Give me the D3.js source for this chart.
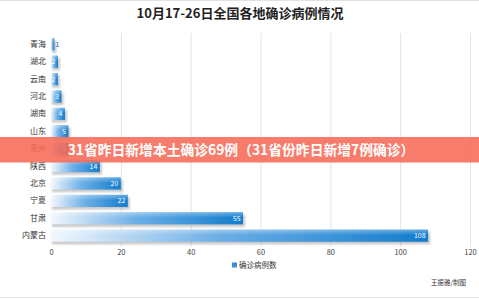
<!DOCTYPE html>
<html>
<head>
<meta charset="utf-8">
<script src="https://cdn.jsdelivr.net/npm/d3@7"></script>
<style>
  html, body { margin: 0; padding: 0; background: #fff; }
  svg { display: block; font-family: "Noto Sans CJK SC", "Noto Sans", sans-serif; }
</style>
</head>
<body>
<svg id="chart" width="479" height="300"></svg>
<script>
// data
var provinces = ["青海", "湖北", "云南", "河北", "湖南", "山东", "贵州", "陕西", "北京", "宁夏", "甘肃", "内蒙古"],
  cases = [1, 2, 2, 3, 4, 5, 5, 14, 20, 22, 55, 108],
  xTicks = [0, 20, 40, 60, 80, 100, 120],
  title = "10月17-26日全国各地确诊病例情况",
  banner = "31省昨日新增本土确诊69例（31省份昨日新增7例确诊）",
  legendLabel = "确诊病例数",
  credit = "王振雅/制图";

var rows = provinces.map(function(p, i){ return {name: p, value: cases[i]}; });

var svg = d3.select("#chart");

var x = d3.scaleLinear().domain([0, 120]).range([51, 470]),
  y = d3.scaleBand().domain(provinces).range([33, 247]).padding(0.3);

var defs = svg.append("defs");

// bar fill: pale on the left, blue at the end
var grad = defs.append("linearGradient")
  .attr("id", "barGrad")
  .attr("x1", 0).attr("x2", 1).attr("y1", 0).attr("y2", 0);
grad.append("stop").attr("offset", "0%").attr("stop-color", "#f2f7fd");
grad.append("stop").attr("offset", "45%").attr("stop-color", "#6aaee6");
grad.append("stop").attr("offset", "100%").attr("stop-color", "#127ccd");

var shine = defs.append("linearGradient")
  .attr("id", "shine")
  .attr("x1", 0).attr("x2", 0).attr("y1", 0).attr("y2", 1);
shine.append("stop").attr("offset", "0%").attr("stop-color", "#fff").attr("stop-opacity", 0.35);
shine.append("stop").attr("offset", "45%").attr("stop-color", "#fff").attr("stop-opacity", 0);

defs.append("filter").attr("id", "blur")
  .append("feGaussianBlur").attr("stdDeviation", 0.9);

// frame lines
svg.append("line").attr("x1", 0).attr("x2", 479).attr("y1", 0.5).attr("y2", 0.5)
  .attr("stroke", "#e2e2e2");
svg.append("line").attr("x1", 0).attr("x2", 479).attr("y1", 297.5).attr("y2", 297.5)
  .attr("stroke", "#e6e6e6");

// title
svg.append("text")
  .attr("x", 240).attr("y", 18)
  .attr("text-anchor", "middle")
  .attr("font-size", 13).attr("font-weight", "bold")
  .attr("fill", "#222")
  .text(title);

// vertical grid
svg.append("g").selectAll("line")
  .data(xTicks.slice(1))
  .join("line")
  .attr("x1", function(d){ return x(d) + 0.5; })
  .attr("x2", function(d){ return x(d) + 0.5; })
  .attr("y1", 33).attr("y2", 247)
  .attr("stroke", "#e4e4e4");

// x axis labels
var xAxis = svg.append("g")
  .attr("transform", "translate(0,250)")
  .call(d3.axisBottom(x).tickValues(xTicks).tickSize(0).tickPadding(0));
xAxis.select(".domain").remove();
xAxis.selectAll("text")
  .attr("font-size", 7.5).attr("fill", "#444")
  .attr("font-family", "\"Noto Sans CJK SC\", sans-serif");

// category labels
var yAxis = svg.append("g")
  .attr("transform", "translate(46,0)")
  .call(d3.axisLeft(y).tickSize(0).tickPadding(0));
yAxis.select(".domain").remove();
yAxis.selectAll("text")
  .attr("font-size", 8).attr("fill", "#333")
  .attr("font-family", "\"Noto Sans CJK SC\", sans-serif");

// bars
var bar = svg.append("g").selectAll("g")
  .data(rows)
  .join("g");

bar.append("rect")
  .attr("x", x(0) + 1)
  .attr("y", function(d){ return y(d.name) + 2.5; })
  .attr("width", function(d){ return x(d.value) - x(0) + 1; })
  .attr("height", y.bandwidth())
  .attr("fill", "#9a9a9a")
  .attr("opacity", 0.55)
  .attr("filter", "url(#blur)");

bar.append("rect")
  .attr("x", x(0))
  .attr("y", function(d){ return y(d.name); })
  .attr("width", function(d){ return x(d.value) - x(0); })
  .attr("height", y.bandwidth())
  .attr("fill", "url(#barGrad)");

bar.append("rect")
  .attr("x", x(0))
  .attr("y", function(d){ return y(d.name); })
  .attr("width", function(d){ return x(d.value) - x(0); })
  .attr("height", y.bandwidth())
  .attr("fill", "url(#shine)");

bar.append("text")
  .attr("x", function(d){ return d.value < 2 ? x(d.value) + 1 : x(d.value) - 2.5; })
  .attr("y", function(d){ return y(d.name) + y.bandwidth() / 2 + 2.5; })
  .attr("text-anchor", function(d){ return d.value < 2 ? "start" : "end"; })
  .attr("font-size", 7)
  .attr("fill", function(d){ return d.value < 2 ? "#1a5a9a" : "#fff"; })
  .text(function(d){ return d.value; });

// legend
svg.append("rect")
  .attr("x", 232).attr("y", 262.5)
  .attr("width", 5).attr("height", 5)
  .attr("fill", "#3a8fd5");
svg.append("text")
  .attr("x", 239).attr("y", 268)
  .attr("font-size", 7.5).attr("fill", "#333")
  .text(legendLabel);

// credit
svg.append("text")
  .attr("x", 466).attr("y", 285)
  .attr("text-anchor", "end")
  .attr("font-size", 6.5).attr("fill", "#333")
  .text(credit);

// headline banner over the chart
svg.append("rect")
  .attr("x", 0).attr("y", 137)
  .attr("width", 479).attr("height", 25.5)
  .attr("fill", "#f76a56")
  .attr("opacity", 0.88);
svg.append("text")
  .attr("x", 241).attr("y", 155)
  .attr("text-anchor", "middle")
  .attr("font-size", 13.8).attr("font-weight", "bold")
  .attr("fill", "#fff")
  .text(banner);
</script>
</body>
</html>
